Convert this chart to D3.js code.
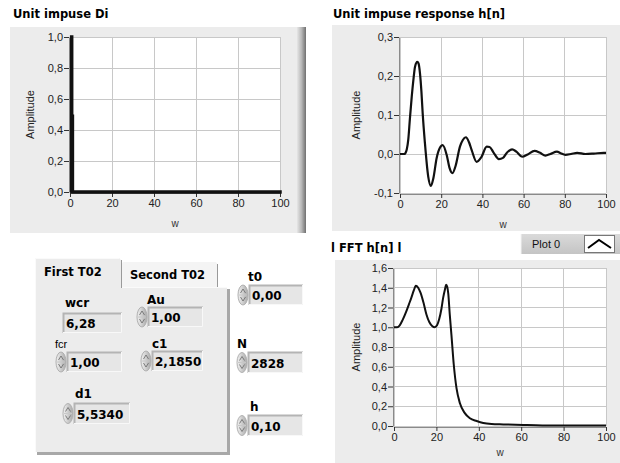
<!DOCTYPE html>
<html><head><meta charset="utf-8">
<script src="https://cdn.jsdelivr.net/npm/d3@7"></script>
<style>
html,body{margin:0;padding:0;background:#fff;}
svg{display:block;}
</style></head>
<body>
<svg id="c" width="620" height="463"></svg>
<script>
// ---------- DATA ----------
const impulseW = [0.8, 0.8, 100];
const impulseA = [1, 0, 0];
const spikeW = [1.7, 1.7];
const spikeA = [0.5, 0];

const hW = [0, 2, 2.6, 3.3, 4.0, 4.8, 5.7, 6.5, 7.3, 8.4, 9.0, 9.7, 10.4, 11.0, 12.1, 13.7, 15.0, 16.2, 17.8, 19.7, 20.7, 22.7, 24.0, 25.5, 27.0, 29.1, 30.5, 32.0, 33.5, 34.8, 37.2, 39.5, 42.1, 43.5, 45.5, 48.0, 50.0, 52.0, 54.4, 56.5, 59.3, 62.0, 65.3, 68.0, 70.6, 73.0, 76.2, 78.0, 80.3, 83.0, 86.0, 90.0, 94.0, 98.9, 100];
const hA = [0, 0, 0.002, 0.012, 0.036, 0.09, 0.147, 0.19, 0.224, 0.236, 0.232, 0.207, 0.16, 0.105, 0.028, -0.058, -0.082, -0.062, -0.01, 0.019, 0.023, -0.003, -0.035, -0.049, -0.03, 0.019, 0.036, 0.043, 0.03, 0.01, -0.02, -0.008, 0.019, 0.018, 0.003, -0.013, -0.01, 0.004, 0.012, 0.006, -0.007, -0.001, 0.008, 0.003, -0.004, 0.0, 0.006, 0.002, -0.002, 0.0, 0.003, 0.0, 0.001, 0.003, 0.003];

const fftW = [0, 1.5, 2.7, 4.2, 5.8, 7.0, 8.2, 9.3, 10.3, 11.4, 12.5, 13.9, 15.3, 16.7, 18.1, 19.2, 20.3, 21.3, 22.4, 23.2, 24.0, 24.6, 25.1, 25.6, 26.3, 27.1, 28.2, 29.5, 31.1, 33.4, 35.8, 39.0, 42.1, 46.0, 51.6, 61.0, 70.0, 85.0, 100];
const fftA = [1.0, 1.0, 1.02, 1.08, 1.16, 1.23, 1.30, 1.37, 1.42, 1.40, 1.35, 1.25, 1.13, 1.05, 1.01, 1.0, 1.02, 1.08, 1.19, 1.30, 1.38, 1.43, 1.41, 1.34, 1.13, 0.92, 0.62, 0.38, 0.23, 0.13, 0.078, 0.05, 0.03, 0.02, 0.016, 0.01, 0.006, 0.005, 0.005];

const xTicks = [0, 20, 40, 60, 80, 100];
const yTicksImpulse = [0, 0.2, 0.4, 0.6, 0.8, 1.0];
const yTicksH = [-0.1, 0, 0.1, 0.2, 0.3];
const yTicksFft = [0, 0.2, 0.4, 0.6, 0.8, 1.0, 1.2, 1.4, 1.6];

const titles = ["Unit impuse Di", "Unit impuse response h[n]", "l FFT h[n] l"];
const xLabel = "w";
const yLabel = "Amplitude";
const legendLabel = "Plot 0";

const tabLabels = ["First T02", "Second T02"];
const controlNames = ["wcr", "Au", "fcr", "c1", "d1", "t0", "N", "h"];
const controlValues = ["6,28", "1,00", "1,00", "2,1850", "5,5340", "0,00", "2828", "0,10"];

// ---------- DRAW ----------
const svg = d3.select("#c");
const defs = svg.append("defs");
const g1 = defs.append("linearGradient").attr("id","edge").attr("x1","0").attr("x2","1");
g1.append("stop").attr("offset","0").attr("stop-color","#e6e6e6");
g1.append("stop").attr("offset","0.5").attr("stop-color","#b8b8b8");
g1.append("stop").attr("offset","1").attr("stop-color","#707070");
const g2 = defs.append("linearGradient").attr("id","spin").attr("x1","0").attr("x2","1");
g2.append("stop").attr("offset","0").attr("stop-color","#f2f2f2");
g2.append("stop").attr("offset","1").attr("stop-color","#a8a8a8");
const g3 = defs.append("linearGradient").attr("id","leg").attr("x1","0").attr("x2","0").attr("y1","0").attr("y2","1");
g3.append("stop").attr("offset","0").attr("stop-color","#dadada");
g3.append("stop").attr("offset","1").attr("stop-color","#c4c4c4");

const fmt = v => d3.format(".1f")(v).replace(".", ",").replace("−","-");
const PANEL = "#ececec";
const TICKFONT = "'Liberation Sans', Arial, sans-serif";
const BOLDFONT = "'DejaVu Sans', Verdana, sans-serif";

function chart(o) {
  svg.append("rect").attr("x", o.panel[0]).attr("y", o.panel[1])
    .attr("width", o.panel[2]).attr("height", o.panel[3]).attr("fill", PANEL);
  if (o.edge) {
    svg.append("rect").attr("x", o.edge[0]).attr("y", o.edge[1]).attr("width", o.edge[2])
      .attr("height", o.edge[3]).attr("fill", "url(#edge)");
  }
  svg.append("text").attr("x", o.titlePos[0]).attr("y", o.titlePos[1])
    .attr("font-family", BOLDFONT).attr("font-weight", "bold").attr("font-size", "11.5px")
    .attr("fill", "#000").text(o.title);

  const x = d3.scaleLinear().domain([0, 100]).range([o.x0, o.x1]);
  const y = d3.scaleLinear().domain(o.yDomain).range([o.y0, o.y1]);

  svg.append("rect").attr("x", o.x0).attr("y", o.y1).attr("width", o.x1 - o.x0)
    .attr("height", o.y0 - o.y1).attr("fill", "#fff");

  const grid = svg.append("g");
  grid.selectAll("line.v").data(xTicks).join("line")
    .attr("x1", d => x(d)).attr("x2", d => x(d)).attr("y1", o.y1).attr("y2", o.y0)
    .attr("stroke", "#c8c8c8").attr("stroke-width", 1).attr("shape-rendering","crispEdges");
  grid.selectAll("line.h").data(o.yTicks).join("line")
    .attr("y1", d => y(d)).attr("y2", d => y(d)).attr("x1", o.x0).attr("x2", o.x1)
    .attr("stroke", "#c8c8c8").attr("stroke-width", 1).attr("shape-rendering","crispEdges");

  const ax = svg.append("g").attr("transform", `translate(0,${o.y0 + 1})`)
    .call(d3.axisBottom(x).tickValues(xTicks).tickSize(4).tickSizeOuter(0).tickPadding(2).tickFormat(d3.format("d")));
  const ay = svg.append("g").attr("transform", `translate(${o.x0 - 1},0)`)
    .call(d3.axisLeft(y).tickValues(o.yTicks).tickSize(5).tickSizeOuter(0).tickPadding(1).tickFormat(fmt));
  [ax, ay].forEach(a => {
    a.select(".domain").attr("stroke", "#8a8a8a");
    a.selectAll(".tick line").attr("stroke", "#333");
    a.selectAll(".tick text").attr("font-family", TICKFONT).attr("font-size", "11px").attr("fill", "#222");
  });

  svg.append("text").attr("x", (o.x0 + o.x1) / 2).attr("y", o.xLabelY)
    .attr("text-anchor", "middle").attr("font-family", TICKFONT).attr("font-size", "10px")
    .attr("fill", "#333").text(xLabel);
  svg.append("text").attr("transform", `translate(${o.yLabelX},${(o.y0 + o.y1) / 2}) rotate(-90)`)
    .attr("text-anchor", "middle").attr("font-family", TICKFONT).attr("font-size", "11px")
    .attr("fill", "#222").text(yLabel);

  const line = d3.line().x(d => x(d[0])).y(d => y(d[1])).curve(o.curve);
  o.series.forEach(s => {
    svg.append("path").datum(d3.zip(s.xs, s.ys)).attr("d", line)
      .attr("fill", "none").attr("stroke", "#111").attr("stroke-width", s.sw)
      .attr("stroke-linejoin", "round").attr("stroke-linecap", s.cap || "butt");
  });
}

chart({ panel: [10, 27, 296, 206], edge: [297, 27, 9, 206], title: titles[0], titlePos: [13, 18],
  x0: 70, x1: 280, y0: 192, y1: 37, yDomain: [0, 1], yTicks: yTicksImpulse,
  xLabelY: 227, yLabelX: 34, curve: d3.curveLinear,
  series: [{ xs: impulseW, ys: impulseA, sw: 3.5, cap: "square" }, { xs: spikeW, ys: spikeA, sw: 1.2 }] });

chart({ panel: [332, 25, 288, 206], title: titles[1], titlePos: [333, 18],
  x0: 400, x1: 606, y0: 193, y1: 37, yDomain: [-0.1, 0.3], yTicks: yTicksH,
  xLabelY: 228, yLabelX: 360, curve: d3.curveMonotoneX,
  series: [{ xs: hW, ys: hA, sw: 2.2 }] });

chart({ panel: [335, 260, 285, 203], title: titles[2], titlePos: [331, 252],
  x0: 394, x1: 606, y0: 426, y1: 268, yDomain: [0, 1.6], yTicks: yTicksFft,
  xLabelY: 456, yLabelX: 360, curve: d3.curveMonotoneX,
  series: [{ xs: fftW, ys: fftA, sw: 2 }] });

// legend
svg.append("rect").attr("x", 521).attr("y", 234).attr("width", 99).attr("height", 20).attr("fill", "url(#leg)");
svg.append("line").attr("x1",521).attr("x2",521).attr("y1",234).attr("y2",254).attr("stroke","#f4f4f4");
svg.append("text").attr("x", 532).attr("y", 248).attr("font-family", TICKFONT).attr("font-size", "11px")
  .attr("fill", "#111").text(legendLabel);
svg.append("rect").attr("x", 584.5).attr("y", 235.5).attr("width", 30).attr("height", 17)
  .attr("fill", "#fff").attr("stroke", "#777");
svg.append("path").attr("d", "M588,248 L599,240 L611,248").attr("fill", "none")
  .attr("stroke", "#000").attr("stroke-width", 2);

// tab control
const tab = svg.append("g");
tab.append("rect").attr("x", 37).attr("y", 289).attr("width", 193).attr("height", 166).attr("fill", "#a8a8a8");
tab.append("rect").attr("x", 35).attr("y", 287).attr("width", 192).attr("height", 165).attr("fill", PANEL);
tab.append("line").attr("x1", 35.5).attr("x2", 35.5).attr("y1", 287).attr("y2", 452).attr("stroke", "#fafafa");
tab.append("line").attr("x1", 122).attr("x2", 227).attr("y1", 287.5).attr("y2", 287.5).attr("stroke", "#fafafa");
tab.append("path").attr("d", "M122,287 L122,264 Q122,262 124,262 L216,262 L218,265 L218,287 Z")
  .attr("fill", "#f4f4f4");
tab.append("line").attr("x1", 217.5).attr("x2", 217.5).attr("y1", 264).attr("y2", 287).attr("stroke", "#999");
tab.append("path").attr("d", "M35,288 L35,260 Q35,258 37,258 L119,258 L122,261 L122,288 Z")
  .attr("fill", PANEL);
tab.append("line").attr("x1", 121.5).attr("x2", 121.5).attr("y1", 260).attr("y2", 288).attr("stroke", "#9a9a9a");
tab.append("line").attr("x1", 35.5).attr("x2", 35.5).attr("y1", 259).attr("y2", 288).attr("stroke", "#fafafa");
tab.append("line").attr("x1", 36).attr("x2", 119).attr("y1", 258.5).attr("y2", 258.5).attr("stroke", "#fafafa");
tab.append("text").attr("x", 44).attr("y", 276).attr("font-family", BOLDFONT).attr("font-weight", "bold")
  .attr("font-size", "11.5px").text(tabLabels[0]);
tab.append("text").attr("x", 130).attr("y", 279).attr("font-family", BOLDFONT).attr("font-weight", "bold")
  .attr("font-size", "11.5px").text(tabLabels[1]);

// controls layout
const layout = [
  { lx: 65, ly: 307, bx: 63, by: 313, bw: 59, bh: 20, spin: false, bold: true },
  { lx: 147, ly: 304, bx: 148, by: 307, bw: 55, bh: 20, spin: true, bold: true },
  { lx: 55, ly: 348, bx: 67, by: 352, bw: 55, bh: 20, spin: true, bold: false },
  { lx: 152, ly: 348, bx: 152, by: 351, bw: 51, bh: 20, spin: true, bold: true },
  { lx: 75, ly: 398, bx: 74, by: 403, bw: 56, bh: 21, spin: true, bold: true },
  { lx: 248, ly: 281, bx: 249, by: 285, bw: 54, bh: 20, spin: true, bold: true },
  { lx: 237, ly: 348, bx: 248, by: 352, bw: 55, bh: 21, spin: true, bold: true },
  { lx: 250, ly: 411, bx: 248, by: 415, bw: 55, bh: 21, spin: true, bold: true }
];
controlNames.forEach((name, i) => {
  const L = layout[i];
  const gc = svg.append("g");
  gc.append("text").attr("x", L.lx).attr("y", L.ly)
    .attr("font-family", L.bold ? BOLDFONT : TICKFONT)
    .attr("font-weight", L.bold ? "bold" : "normal")
    .attr("font-size", L.bold ? "12px" : "11px").attr("fill", "#000").text(name);
  gc.append("rect").attr("x", L.bx).attr("y", L.by).attr("width", L.bw).attr("height", L.bh).attr("fill", "#e6e6e6");
  gc.append("path").attr("d", `M${L.bx + 0.5},${L.by + L.bh} L${L.bx + 0.5},${L.by + 0.5} L${L.bx + L.bw},${L.by + 0.5}`)
    .attr("fill", "none").attr("stroke", "#b4b4b4").attr("stroke-width", 2);
  gc.append("path").attr("d", `M${L.bx},${L.by + L.bh - 0.5} L${L.bx + L.bw - 0.5},${L.by + L.bh - 0.5} L${L.bx + L.bw - 0.5},${L.by}`)
    .attr("fill", "none").attr("stroke", "#f8f8f8");
  gc.append("text").attr("x", L.bx + 3).attr("y", L.by + L.bh - 5)
    .attr("font-family", BOLDFONT).attr("font-weight", "bold").attr("font-size", "12px")
    .attr("fill", "#000").text(controlValues[i]);
  if (L.spin) {
    const cx = L.bx - 6, cy = L.by + L.bh / 2;
    gc.append("ellipse").attr("cx", cx).attr("cy", cy).attr("rx", 5).attr("ry", 10)
      .attr("fill", "url(#spin)").attr("stroke", "#b0b0b0");
    gc.append("path").attr("d", `M${cx - 2.5},${cy - 2} L${cx},${cy - 6} L${cx + 2.5},${cy - 2}`)
      .attr("fill", "none").attr("stroke", "#666").attr("stroke-width", 0.8);
    gc.append("path").attr("d", `M${cx - 2.5},${cy + 2} L${cx},${cy + 6} L${cx + 2.5},${cy + 2}`)
      .attr("fill", "none").attr("stroke", "#666").attr("stroke-width", 0.8);
    gc.append("line").attr("x1", cx - 4).attr("x2", cx + 4).attr("y1", cy).attr("y2", cy).attr("stroke", "#c8c8c8");
  }
});
</script>
</body></html>
